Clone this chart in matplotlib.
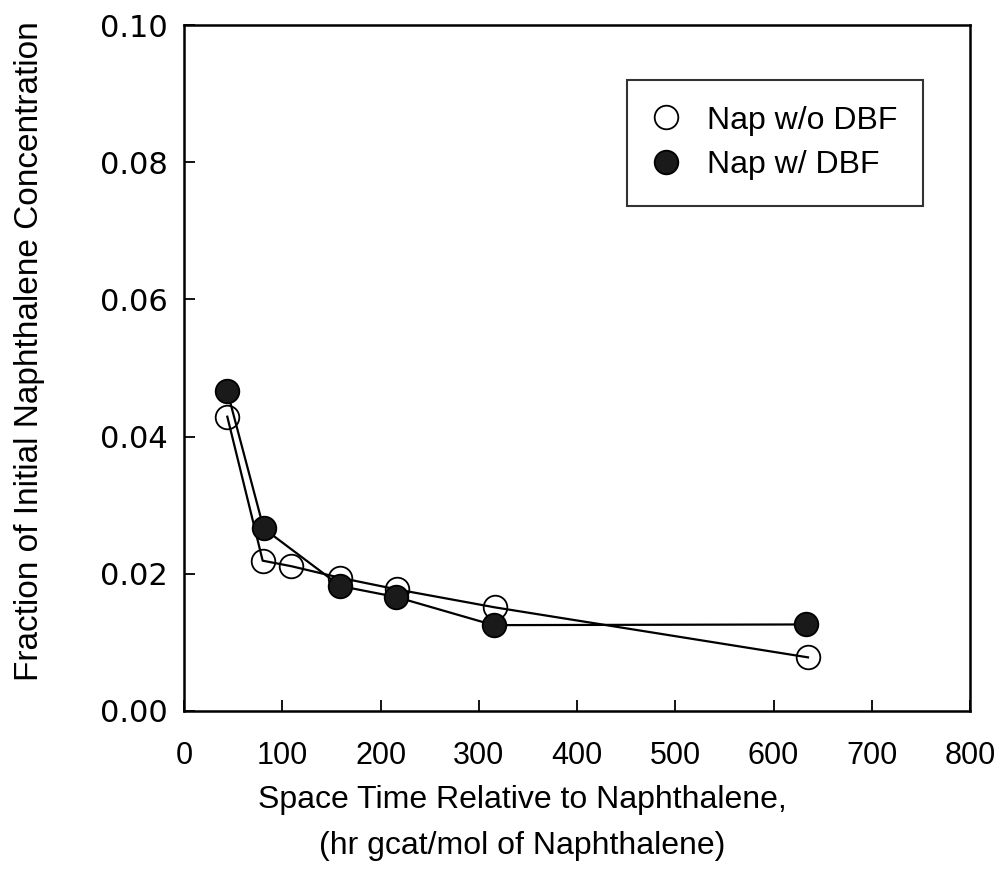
import matplotlib.pyplot as plt

# data
x_without = [44, 80, 109, 159, 217, 316, 635]
y_without = [0.0429, 0.0219, 0.0211, 0.0194, 0.0177, 0.0151, 0.0078]
x_with = [44, 81, 159, 216, 315, 633]
y_with = [0.0466, 0.0266, 0.0182, 0.0166, 0.0125, 0.0126]

xticks = [0, 100, 200, 300, 400, 500, 600, 700, 800]
yticks = [0.00, 0.02, 0.04, 0.06, 0.08, 0.10]

fig = plt.figure(figsize=(9.95, 8.69), dpi=100)
ax = fig.add_axes([0.185, 0.182, 0.79, 0.789])

ax.plot(x_without, y_without, color='black', linewidth=1.6, marker='o',
        markersize=17, markerfacecolor='none', markeredgecolor='black',
        markeredgewidth=1.3, label='Nap w/o DBF')
ax.plot(x_with, y_with, color='black', linewidth=1.6, marker='o',
        markersize=17, markerfacecolor='#1a1a1a', markeredgecolor='black',
        markeredgewidth=1.3, label='Nap w/ DBF')

ax.set_xlim(0, 800)
ax.set_ylim(0, 0.10)
ax.set_xticks(xticks)
ax.set_yticks(yticks)
ax.set_yticklabels([f'{v:.2f}' for v in yticks], fontsize=22, family='DejaVu Sans')
ax.set_xticklabels([str(v) for v in xticks], fontsize=22, family='Liberation Sans')
ax.tick_params(axis='x', direction='in', length=8, width=1.3, pad=22)
ax.tick_params(axis='y', direction='in', length=8, width=1.3, pad=12)
for s in ax.spines.values():
    s.set_linewidth(1.8)

ax.set_xlabel('Space Time Relative to Naphthalene,\n(hr gcat/mol of Naphthalene)',
              fontsize=23, family='Liberation Sans', linespacing=1.7)
ax.xaxis.set_label_coords(0.43, -0.108, transform=ax.transAxes)
ax.xaxis.label.set_verticalalignment('top')
ax.set_ylabel('Fraction of Initial Naphthalene Concentration',
              fontsize=24, family='Liberation Sans')
ax.yaxis.set_label_coords(-0.177, 0.525, transform=ax.transAxes)

leg = ax.legend(loc='upper right', bbox_to_anchor=(0.94, 0.92), borderaxespad=0,
                frameon=True, fancybox=False, edgecolor='black', handlelength=0.8,
                handletextpad=0.9, borderpad=0.8, labelspacing=0.45,
                prop={'family': 'Liberation Sans', 'size': 23})
leg.get_frame().set_linewidth(1.5)
for h in leg.legend_handles:
    h.set_linestyle('none')
    h.set_markersize(17)

fig.savefig('out.png', dpi=100)
